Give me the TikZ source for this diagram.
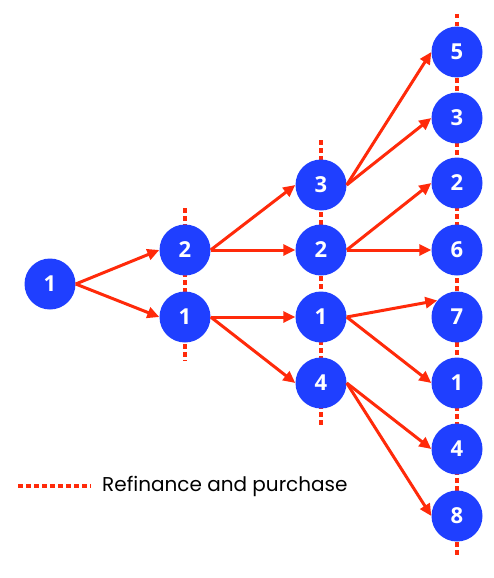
\documentclass[tikz,border=0pt]{standalone}
\usepackage{fontspec}
\setmainfont{Poppins}
\newfontfamily\numfont{Open Sans}
\usetikzlibrary{arrows.meta}
\definecolor{nodeblue}{HTML}{1F3FFF}
\definecolor{linered}{HTML}{FF2A0A}
\tikzset{
  dot/.style={circle,fill=nodeblue,minimum size=51pt,inner sep=0pt,text=white,font=\numfont\bfseries\fontsize{22}{26}\selectfont},
  edge/.style={draw=linered,line width=3pt,-{Triangle[length=12pt,width=11pt]}},
  refi/.style={draw=linered,line width=4pt,dash pattern=on 4.5pt off 3.5pt}
}
\begin{document}
\begin{tikzpicture}[x=1pt,y=-1pt]
\useasboundingbox (0,0) rectangle (494,578);
% dotted vertical lines
\coordinate (v1t) at (185,208); \coordinate (v1b) at (185,361);
\coordinate (v2t) at (321,140); \coordinate (v2b) at (321,427);
\coordinate (v3t) at (457,14);  \coordinate (v3b) at (457,556);
\draw[refi] (v1t) -- (v1b);
\draw[refi] (v2t) -- (v2b);
\draw[refi] (v3t) -- (v3b);
% nodes
\node[dot] (a) at (50,284) {1};
\node[dot] (b1) at (185,250) {2};
\node[dot] (b2) at (185,317) {1};
\node[dot] (c1) at (321,185) {3};
\node[dot] (c2) at (321,250) {2};
\node[dot] (c3) at (321,317) {1};
\node[dot] (c4) at (321,383) {4};
\node[dot] (d1) at (457,52) {5};
\node[dot] (d2) at (457,118) {3};
\node[dot] (d3) at (457,183) {2};
\node[dot] (d4) at (457,250) {6};
\node[dot] (d5) at (457,317) {7};
\node[dot] (d6) at (457,383) {1};
\node[dot] (d7) at (457,449) {4};
\node[dot] (d8) at (457,516) {8};
% edges
\draw[edge] (a.east) -- (b1.west);
\draw[edge] (a.east) -- (b2.west);
\draw[edge] (b1.east) -- (c1.west);
\draw[edge] (b1.east) -- (c2.west);
\draw[edge] (b2.east) -- (c3.west);
\draw[edge] (b2.east) -- (c4.west);
\draw[edge] (c1.east) -- (d1.west);
\draw[edge] (c1.east) -- (d2.west);
\draw[edge] (c2.east) -- (d3.west);
\draw[edge] (c2.east) -- (d4.west);
\draw[edge] (c3.east) -- (d5.140);
\draw[edge] (c3.east) -- (d6.west);
\draw[edge] (c4.east) -- (d7.west);
\draw[edge] (c4.east) -- (d8.west);
% legend
\coordinate (l1) at (18,486); \coordinate (l2) at (91,486);
\draw[refi] (l1) -- (l2);
\node[anchor=west,inner sep=0pt,font=\fontsize{20}{24}\selectfont] (lt) at (102,486) {Refinance and purchase};
\end{tikzpicture}
\end{document}
